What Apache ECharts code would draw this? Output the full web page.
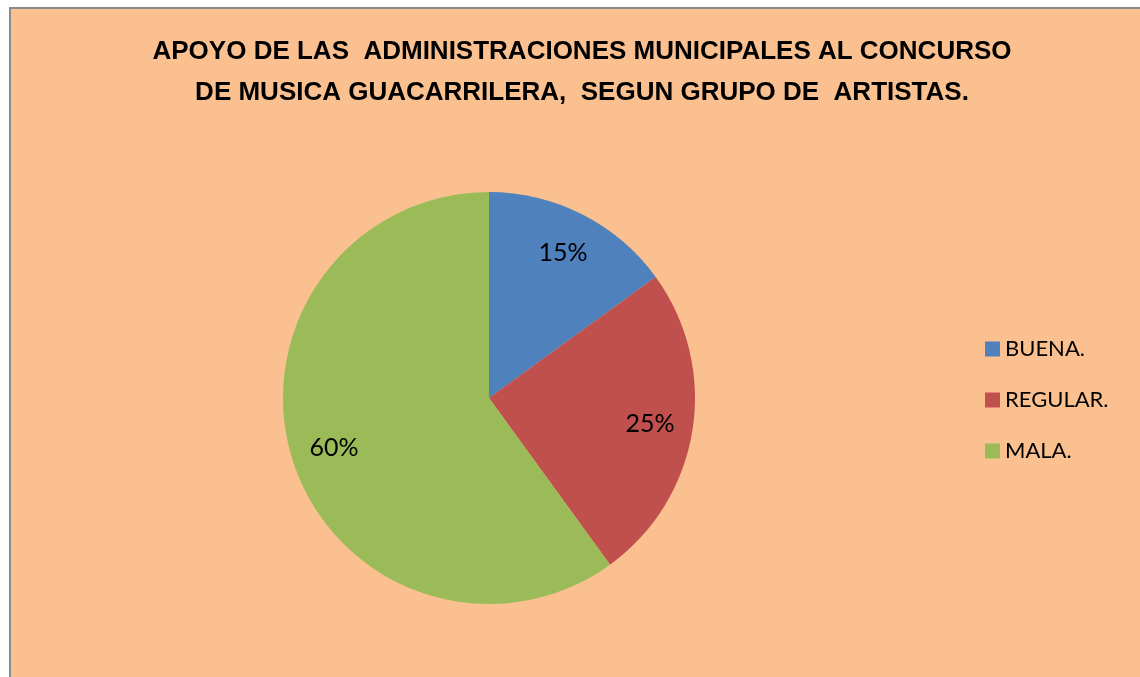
<!DOCTYPE html>
<html>
<head>
<meta charset="utf-8">
<script src="https://cdn.jsdelivr.net/npm/echarts@6/dist/echarts.min.js"></script>
<style>
  html, body { margin: 0; padding: 0; background: #fff; overflow: hidden; }
  #chart {
    position: absolute; left: 9px; top: 7px;
    width: 1140px; height: 680px;
    background: #FAC090;
    border-left: 2px solid #8a8a8a;
    border-top: 2px solid #8a8a8a;
  }
</style>
</head>
<body>
<div id="chart"></div>
<script>
// datos del grafico
var categorias = ['BUENA.', 'REGULAR.', 'MALA.'];
var valores = [15, 25, 60];
var colores = ['#4F81BD', '#C0504D', '#9BBB59'];
var titulo = 'APOYO DE LAS  ADMINISTRACIONES MUNICIPALES AL CONCURSO\nDE MUSICA GUACARRILERA,  SEGUN GRUPO DE  ARTISTAS.';

var datos = categorias.map(function (c, i) {
  return { name: c, value: valores[i], itemStyle: { color: colores[i] } };
});

var chart = echarts.init(document.getElementById('chart'));
chart.setOption({
  animation: false,
  title: {
    text: titulo,
    left: 566,
    textAlign: 'center',
    top: 17,
    textStyle: {
      fontFamily: '"Liberation Sans", Arial, sans-serif',
      fontWeight: 'bold',
      fontSize: 26,
      lineHeight: 41,
      color: '#000'
    }
  },
  legend: {
    orient: 'vertical',
    left: 969,
    top: 324,
    itemWidth: 15,
    itemHeight: 15,
    itemGap: 29,
    icon: 'rect',
    data: categorias,
    textStyle: { fontFamily: 'Lato, sans-serif', fontSize: 22, color: '#000' }
  },
  series: [
    {
      type: 'pie',
      center: [478, 389],
      radius: [0, 206],
      startAngle: 90,
      clockwise: true,
      silent: true,
      label: { show: false },
      labelLine: { show: false },
      itemStyle: { borderWidth: 0 },
      data: datos
    },
    {
      // serie auxiliar solo para colocar las etiquetas
      type: 'pie',
      center: [478, 389],
      radius: [0, 320],
      startAngle: 90,
      clockwise: true,
      silent: true,
      itemStyle: { color: 'transparent', borderWidth: 0 },
      label: {
        show: true,
        position: 'inside',
        formatter: '{c}%',
        fontFamily: 'Lato, sans-serif',
        fontSize: 25,
        color: '#000'
      },
      labelLine: { show: false },
      data: categorias.map(function (c, i) { return { name: c, value: valores[i] }; })
    }
  ]
});
</script>
</body>
</html>
